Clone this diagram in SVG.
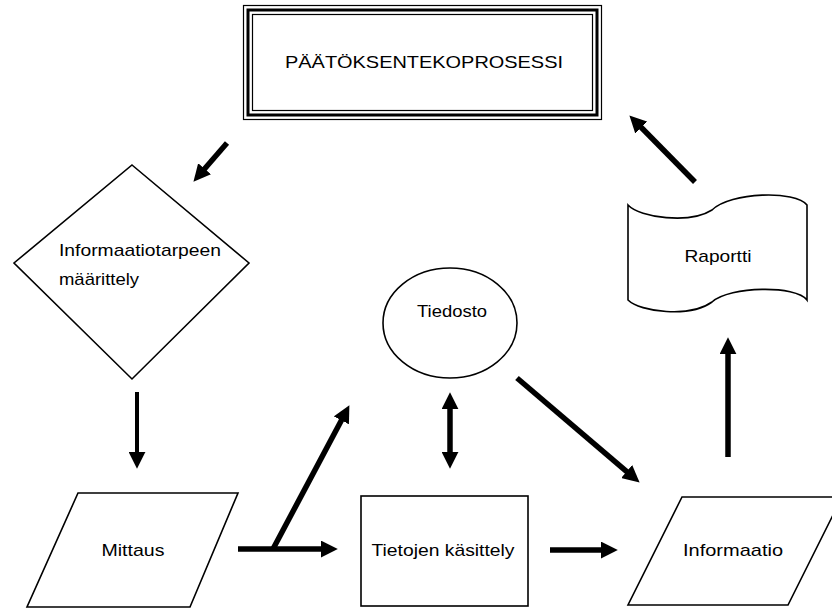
<svg xmlns="http://www.w3.org/2000/svg" width="832" height="609" viewBox="0 0 832 609">
<style>
.shape{fill:#fff;stroke:#000;stroke-width:1.6}
.lbl{font-family:"Liberation Sans","DejaVu Sans",sans-serif;font-size:17px;fill:#000}
.mid{text-anchor:middle}
.arr{stroke:#000;stroke-width:5.5;fill:none}
.arr-thin{stroke:#000;stroke-width:4;fill:none}
</style>
<defs>
<marker id="head" markerUnits="userSpaceOnUse" viewBox="0 0 16 16" markerWidth="17" markerHeight="17" refX="3" refY="8" orient="auto-start-reverse">
<path d="M0,0 L16,8 L0,16 Z" fill="#000"/>
</marker>
</defs>
<rect width="832" height="609" fill="#fff"/>

<g id="title">
<rect x="243.5" y="5.5" width="358" height="114" fill="#fff" stroke="#000" stroke-width="1.2"/>
<rect x="248" y="10" width="349" height="105" fill="none" stroke="#000" stroke-width="3"/>
<rect x="252.5" y="14.5" width="340" height="96" fill="none" stroke="#000" stroke-width="1.2"/>
<text class="lbl mid" x="424" y="68" font-size="20" textLength="278" lengthAdjust="spacingAndGlyphs">PÄÄTÖKSENTEKOPROSESSI</text>
</g>

<g id="informaatiotarve">
<polygon class="shape" points="132,165 249,263 132,379 14,263"/>
<text class="lbl" x="59" y="256" textLength="162" lengthAdjust="spacingAndGlyphs">Informaatiotarpeen</text>
<text class="lbl" x="59" y="285" textLength="80" lengthAdjust="spacingAndGlyphs">määrittely</text>
</g>

<g id="mittaus">
<polygon class="shape" points="78,493 238,493 190,607 27,607"/>
<text class="lbl mid" x="133" y="556" textLength="63" lengthAdjust="spacingAndGlyphs">Mittaus</text>
</g>

<g id="tiedosto">
<ellipse class="shape" cx="450" cy="323" rx="67" ry="55"/>
<text class="lbl mid" x="452" y="317" textLength="70" lengthAdjust="spacingAndGlyphs">Tiedosto</text>
</g>

<g id="tietojen-kasittely">
<rect class="shape" x="361" y="496" width="167" height="110"/>
<text class="lbl mid" x="443" y="556" textLength="143" lengthAdjust="spacingAndGlyphs">Tietojen käsittely</text>
</g>

<g id="informaatio">
<polygon class="shape" points="682,497 842,497 788,605 628,605"/>
<text class="lbl mid" x="733" y="556" textLength="100" lengthAdjust="spacingAndGlyphs">Informaatio</text>
</g>

<g id="raportti">
<path class="shape" d="M628,205 C640,218 690,224 712,210 C730,192 796,190 807,205 L807,300 C796,285 730,286 712,302 C690,318 640,312 628,300 Z"/>
<text class="lbl mid" x="718" y="262" textLength="67" lengthAdjust="spacingAndGlyphs">Raportti</text>
</g>

<g id="connectors">
<line class="arr" x1="227" y1="143" x2="202.5" y2="171.2" marker-end="url(#head)"/>
<line class="arr" x1="695" y1="182" x2="639.1" y2="125.3" marker-end="url(#head)"/>
<line class="arr-thin" x1="137" y1="392" x2="137" y2="455" marker-end="url(#head)"/>
<line class="arr" x1="238" y1="549" x2="324" y2="549" marker-end="url(#head)"/>
<line class="arr" x1="273" y1="549" x2="342.9" y2="417.5" marker-end="url(#head)"/>
<line class="arr" x1="450" y1="406" x2="450" y2="455" marker-start="url(#head)" marker-end="url(#head)"/>
<line class="arr" x1="517" y1="378" x2="629.1" y2="473.6" marker-end="url(#head)"/>
<line class="arr" x1="550" y1="550" x2="604" y2="550" marker-end="url(#head)"/>
<line class="arr" x1="728" y1="457" x2="728" y2="351" marker-end="url(#head)"/>
</g>
</svg>
